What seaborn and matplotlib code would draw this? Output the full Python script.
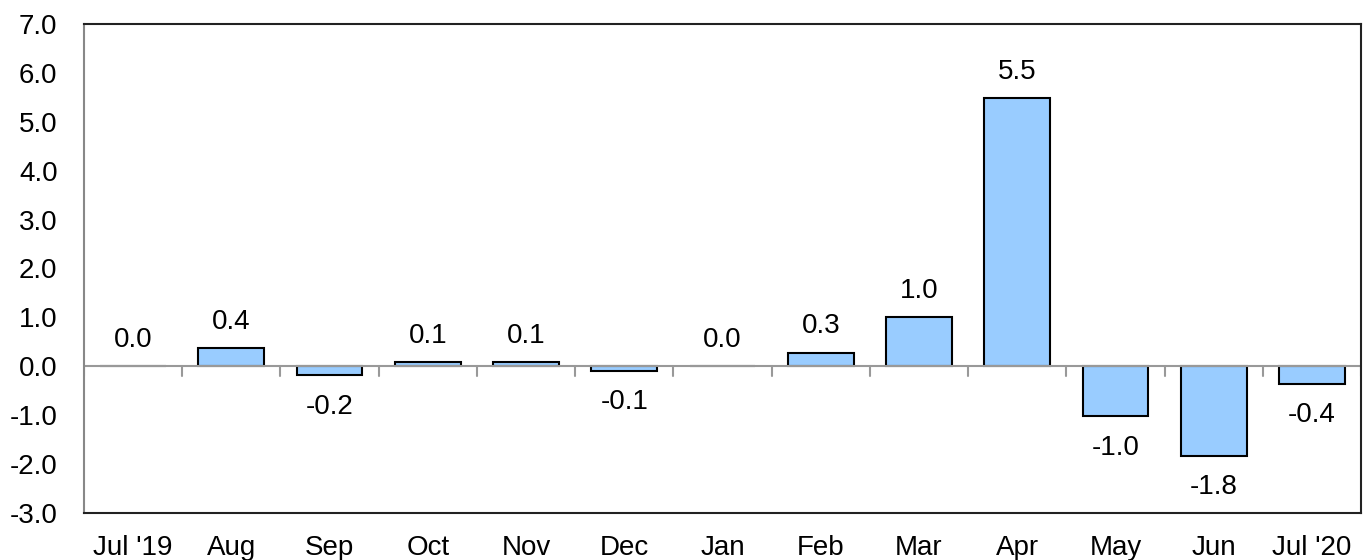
import numpy as np
import pandas as pd
import seaborn as sns
import matplotlib.pyplot as plt

# datos del grafico
meses = ["Jul '19", "Aug", "Sep", "Oct", "Nov", "Dec", "Jan", "Feb", "Mar", "Apr", "May", "Jun", "Jul '20"]
valores = [0.0, 0.37, -0.18, 0.08, 0.08, -0.09, 0.0, 0.27, 1.0, 5.48, -1.02, -1.83, -0.36]
yticks = [-3, -2, -1, 0, 1, 2, 3, 4, 5, 6, 7]

df = pd.DataFrame({"mes": meses, "valor": valores})

sns.set_style("white")
plt.rcParams['font.family'] = ['Liberation Sans', 'DejaVu Sans']
plt.rcParams['text.color'] = 'black'

fig = plt.figure(figsize=(13.66, 5.6), dpi=100)
ax = fig.add_axes([84 / 1366, 1 - 513 / 560, (1361 - 84) / 1366, (513 - 24) / 560])

sns.barplot(data=df, x="mes", y="valor", color="#99CCFF", saturation=1,
            edgecolor="black", linewidth=1.5, width=0.67, ax=ax)

# linea del cero y marcas entre categorias
ax.axhline(0, color="#999999", lw=1.5, zorder=1)
n = len(meses)
for b in np.arange(n + 1) - 0.5:
    ax.plot([b, b], [0, -0.2], color="#999999", lw=1.5, zorder=1, clip_on=True)

ax.set_xlim(-0.5, n - 0.5)
ax.set_ylim(-3, 7)
ax.set_yticks(yticks)
ax.set_yticklabels([f"{t:.1f}" for t in yticks])
ax.set_xlabel("")
ax.set_ylabel("")
ax.tick_params(axis="both", length=0, labelsize=20, colors="black")
ax.tick_params(axis="x", pad=16)
ax.tick_params(axis="y", pad=19)

for s in ["top", "right", "bottom"]:
    ax.spines[s].set_color("#222222")
    ax.spines[s].set_linewidth(1.5)
ax.spines["left"].set_color("#888888")
ax.spines["left"].set_linewidth(1.5)

# etiquetas de valores
for i, v in enumerate(valores):
    if v >= 0:
        ax.text(i, v + 0.28, f"{v:.1f}", ha="center", va="bottom", fontsize=20, color="black")
    else:
        ax.text(i, v - 0.38, f"{v:.1f}", ha="center", va="top", fontsize=20, color="black")

plt.savefig("out.png", dpi=100)
